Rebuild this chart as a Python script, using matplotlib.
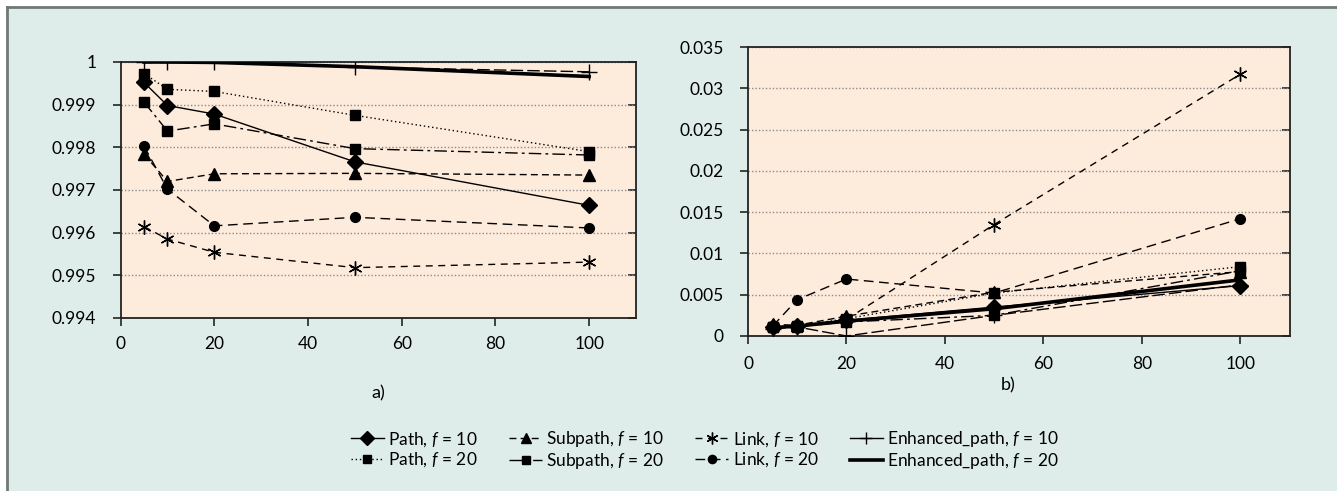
import numpy as np
import matplotlib
matplotlib.use("Agg")
import matplotlib.pyplot as plt
from matplotlib.lines import Line2D

plt.rcParams['font.family'] = ['Lato', 'DejaVu Sans']
plt.rcParams['mathtext.fontset'] = 'custom'
plt.rcParams['mathtext.rm'] = 'Lato'
plt.rcParams['mathtext.it'] = 'Lato:italic'

# x values
x = [5, 10, 20, 50, 100]

# panel a) values
a_path10 = [0.99952, 0.99898, 0.99878, 0.99766, 0.99664]
a_path20 = [0.99973, 0.99936, 0.99931, 0.99875, 0.99790]
a_sub10 = [0.99784, 0.99720, 0.99738, 0.99739, 0.99735]
a_sub20 = [0.99906, 0.99838, 0.99855, 0.99797, 0.99782]
a_link10 = [0.99614, 0.99585, 0.99554, 0.99518, 0.99531]
a_link20 = [0.99803, 0.99702, 0.99616, 0.99636, 0.99611]
a_enh10 = [1.0, 1.0, 0.99999, 0.99988, 0.99977]
a_enh20 = [1.0, 1.0, 0.99999, 0.99989, 0.99966]

# panel b) values
b_path10 = [0.0011, 0.0012, 0.0019, 0.0035, 0.0061]
b_path20 = [0.0011, 0.0012, 0.0021, 0.0052, 0.0084]
b_sub10 = [0.0014, 0.0013, 0.0024, 0.0053, 0.0078]
b_sub20 = [0.0011, 0.0011, 0.0017, 0.0025, 0.0079]
b_link10 = [0.0011, 0.0012, 0.0020, 0.0135, 0.0317]
b_link20 = [0.0012, 0.0044, 0.0069, 0.0052, 0.0142]
b_enh10 = [0.0009, 0.0011, 0.0, 0.0025, 0.0062]
b_enh20 = [0.0010, 0.0012, 0.0018, 0.0033, 0.0068]

labels = ['Path, $f$ = 10', 'Path, $f$ = 20',
          'Subpath, $f$ = 10', 'Subpath, $f$ = 20',
          'Link, $f$ = 10', 'Link, $f$ = 20',
          'Enhanced_path, $f$ = 10', 'Enhanced_path, $f$ = 20']

asterisk = (6, 2, 0)
styles = [
    dict(ls='-', lw=1.0, marker='D', ms=8),
    dict(ls=(0, (1, 2)), lw=1.0, marker='s', ms=7),
    dict(ls=(0, (5, 3)), lw=1.0, marker='^', ms=8),
    dict(ls=(0, (9, 3, 2, 3)), lw=1.0, marker='s', ms=7),
    dict(ls=(0, (5, 4)), lw=1.0, marker=asterisk, ms=10, mew=1.0),
    dict(ls=(0, (7, 4)), lw=1.0, marker='o', ms=7),
    dict(ls=(0, (9, 3)), lw=1.0, marker='+', ms=11, mew=1.0),
    dict(ls='-', lw=2.6, marker=None),
]

series_a = [a_path10, a_path20, a_sub10, a_sub20, a_link10, a_link20, a_enh10, a_enh20]
series_b = [b_path10, b_path20, b_sub10, b_sub20, b_link10, b_link20, b_enh10, b_enh20]

bg = '#deedea'
plotbg = '#fdebdc'
framec = '#6f7876'

W, H = 1337, 491
fig = plt.figure(figsize=(13.37, 4.91), dpi=100, facecolor='white')
# teal panel with top and left frame lines
fig.add_artist(plt.Rectangle((7 / W, 0), 1, 1 - 7 / H, transform=fig.transFigure,
                             facecolor=bg, edgecolor='none', zorder=0))
fig.add_artist(Line2D([7 / W, 1], [1 - 7 / H, 1 - 7 / H], transform=fig.transFigure,
                      color=framec, lw=2))
fig.add_artist(Line2D([7 / W, 7 / W], [0, 1 - 7 / H], transform=fig.transFigure,
                      color=framec, lw=2))

ax1 = fig.add_axes([120.6 / W, 1 - 318 / H, (636 - 120.6) / W, (318 - 62) / H])
ax2 = fig.add_axes([748 / W, 1 - 336 / H, (1289.5 - 748) / W, (336 - 47) / H])

for ax, series, xpad in [(ax1, series_a, 7.5), (ax2, series_b, 9)]:
    ax.set_facecolor(plotbg)
    for ys, st in zip(series, styles):
        ax.plot(x, ys, color='black', mfc='black', mec='black', zorder=3, **st)
    ax.set_xlim(0, 110)
    ax.set_xticks([0, 20, 40, 60, 80, 100])
    ax.grid(axis='y', ls=(0, (1, 1.5)), color='#8c8c8c', lw=1)
    for s in ax.spines.values():
        s.set_color('#222222')
        s.set_linewidth(1.3)
    ax.tick_params(axis='y', direction='out', length=5.5, width=1.3, labelsize=12.5, pad=12,
                   color='#333333')
    ax.tick_params(axis='x', direction='out', length=5.5, width=1.3, labelsize=12.5, pad=xpad,
                   color='#333333')
    sec = ax.secondary_yaxis('right')
    sec.tick_params(direction='in', length=5.5, width=1.3, labelright=False, color='#333333')
    sec.spines['right'].set_visible(False)

ax1.set_ylim(0.994, 1.0)
ax1.set_yticks([0.994, 0.995, 0.996, 0.997, 0.998, 0.999, 1.0])
ax1.set_yticklabels(['0.994', '0.995', '0.996', '0.997', '0.998', '0.999', '1'])
ax2.set_ylim(0, 0.035)
ax2.set_yticks([0, 0.005, 0.01, 0.015, 0.02, 0.025, 0.03, 0.035])
ax2.set_yticklabels(['0', '0.005', '0.01', '0.015', '0.02', '0.025', '0.03', '0.035'])

fig.text(378 / W, 1 - 393 / H, 'a)', ha='center', va='center', fontsize=13)
fig.text(1008 / W, 1 - 385 / H, 'b)', ha='center', va='center', fontsize=13)

handles = []
for st in styles:
    st2 = dict(st)
    if st2.get('marker') == '+':
        st2['ls'] = '-'
    handles.append(Line2D([], [], color='black', mfc='black', mec='black', **st2))
fig.legend(handles, labels, ncol=4, loc='center', bbox_to_anchor=(705 / W, 1 - 450 / H),
           frameon=False, fontsize=12.5, handlelength=1.9, handletextpad=0.25,
           columnspacing=1.8, labelspacing=0.1, markerscale=0.85)

fig.savefig('out.png', dpi=100, facecolor='white')
